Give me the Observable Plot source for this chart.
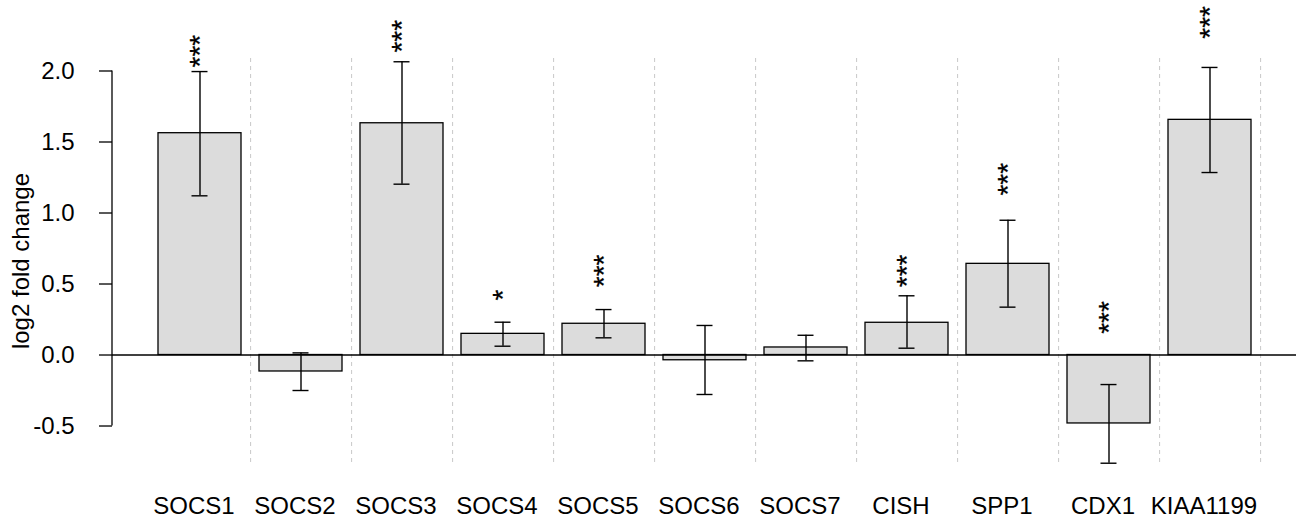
<!DOCTYPE html>
<html>
<head>
<meta charset="utf-8">
<script src="https://cdn.jsdelivr.net/npm/d3@7"></script>
<script src="https://cdn.jsdelivr.net/npm/@observablehq/plot@0.6"></script>
<style>
  html, body { margin: 0; padding: 0; background: #fff; }
  svg { display: block; }
</style>
</head>
<body>
<div id="chart"></div>
<script>
// ---- data ----
const genes = ["SOCS1", "SOCS2", "SOCS3", "SOCS4", "SOCS5", "SOCS6", "SOCS7", "CISH", "SPP1", "CDX1", "KIAA1199"];
const values = [1.562, -0.116, 1.632, 0.149, 0.220, -0.037, 0.053, 0.227, 0.642, -0.482, 1.656];
const errLow = [1.121, -0.250, 1.203, 0.062, 0.121, -0.278, -0.041, 0.048, 0.337, -0.762, 1.285];
const errHigh = [1.996, 0.015, 2.065, 0.231, 0.320, 0.208, 0.139, 0.417, 0.949, -0.208, 2.025];
const stars = ["***", "", "***", "*", "***", "", "", "***", "***", "***", "***"];
const starY = [2.025, null, 2.130, 0.384, 0.477, null, null, 0.477, 1.123, 0.149, 2.227];
const yTicks = [-0.5, 0, 0.5, 1.0, 1.5, 2.0];
const yLabel = "log2 fold change";

// ---- table built from the arrays ----
const data = genes.map((g, i) => ({gene: g, value: values[i], lo: errLow[i], hi: errHigh[i]}));
const starData = genes.map((g, i) => ({gene: g, s: stars[i], y: starY[i]})).filter(d => d.s);

// ---- layout ----
const W = 1300, H = 532;
const mLeft = 112, mRight = 4, mTop = 58, mBottom = 69;
const xRange = [147.6, 1261];
const padIn = 0.175;
const xOpts = {type: "band", domain: genes, range: xRange, paddingInner: padIn, paddingOuter: padIn / 2};
const step = Plot.scale({x: xOpts}).step;
const font = "'Liberation Sans', Arial, Helvetica, sans-serif";

const chart = Plot.plot({
  width: W,
  height: H,
  marginLeft: mLeft,
  marginRight: mRight,
  marginTop: mTop,
  marginBottom: mBottom,
  style: {fontFamily: font, background: "#fff", color: "#000"},
  x: {...xOpts, label: null},
  y: {domain: [-0.764, 2.088], label: null},
  marks: [
    // dashed separators at band boundaries
    Plot.ruleX(genes, {x: d => d, dx: step / 2, stroke: "#c8c8c8", strokeWidth: 1, strokeDasharray: "4,4"}),
    Plot.barY(data, {x: "gene", y1: 0, y2: "value", fill: "#dcdcdc", stroke: "#000", strokeWidth: 1.3}),
    Plot.ruleY([0], {stroke: "#000", strokeWidth: 1.3}),
    // error bars
    Plot.ruleX(data, {x: "gene", y1: "lo", y2: "hi", stroke: "#000", strokeWidth: 1.4}),
    Plot.tickY(data, {x: "gene", y: "lo", stroke: "#000", strokeWidth: 1.4, insetLeft: 33.5, insetRight: 33.5}),
    Plot.tickY(data, {x: "gene", y: "hi", stroke: "#000", strokeWidth: 1.4, insetLeft: 33.5, insetRight: 33.5}),
    // significance stars
    Plot.text(starData, {x: "gene", y: "y", text: "s", rotate: -90, textAnchor: "start", fontSize: 28, fill: "#000", stroke: "#000", strokeWidth: 0.3}),
    // axes
    Plot.axisX({tickSize: 0, tickPadding: 33, fontSize: 24, dx: -6, label: null, fill: "#000"}),
    Plot.axisY({ticks: yTicks, tickFormat: d => d.toFixed(1), tickSize: 13, tickPadding: 25, fontSize: 24,
      label: yLabel, labelArrow: "none", labelAnchor: "center", labelOffset: 101, fill: "#000", stroke: "#000", strokeWidth: 1.3})
  ]
});

// y axis line between first and last tick, positioned with the plot's own y scale
const ys = chart.scale("y");
d3.select(chart).append("line")
  .attr("x1", mLeft).attr("x2", mLeft)
  .attr("y1", ys.apply(yTicks[0])).attr("y2", ys.apply(yTicks[yTicks.length - 1]))
  .attr("stroke", "#000").attr("stroke-width", 1.3);

document.getElementById("chart").appendChild(chart);
</script>
</body>
</html>
